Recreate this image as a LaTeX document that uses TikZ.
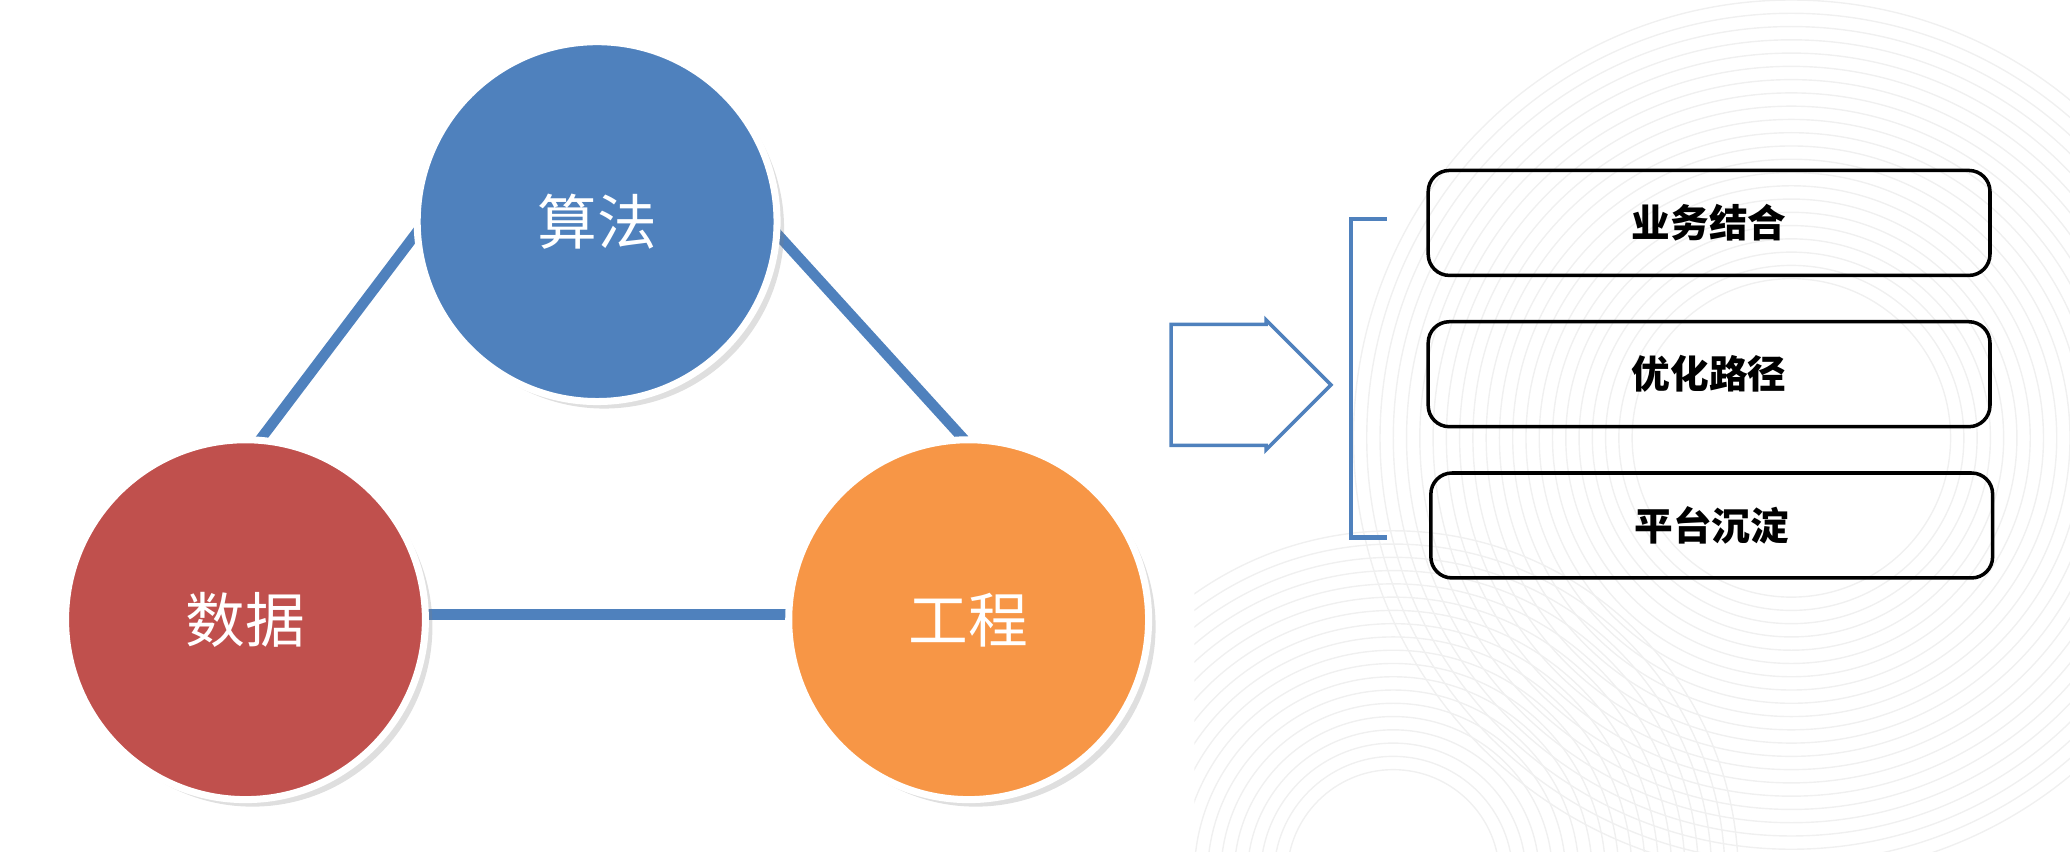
\documentclass[tikz,border=0pt]{standalone}
\usepackage{fontspec}
\newfontfamily\cjk{Noto Sans CJK SC}
\usetikzlibrary{shapes.arrows,shadows}
\definecolor{cblue}{HTML}{4F81BD}
\definecolor{cred}{HTML}{C0504D}
\definecolor{corange}{HTML}{F79646}
\begin{document}
\begin{tikzpicture}[x=0.01327cm,y=-0.01327cm,
  ball/.style={circle,draw=white,line width=2pt,minimum size=3.6cm,text=white,font=\cjk\fontsize{17}{20}\selectfont,drop shadow={opacity=0.25,shadow xshift=2pt,shadow yshift=-2pt}},
  link/.style={cblue,line width=3pt},
  item/.style={draw=black,line width=1pt,rounded corners=6pt,minimum width=5.62cm,minimum height=1.05cm,font=\cjk\bfseries\fontsize{11}{13}\selectfont}]
\useasboundingbox (0,0) rectangle (1560,642);
\begin{scope}
\clip (900,0) rectangle (1560,642);
\foreach \r in {120,130,...,330} \draw[gray!12,line width=0.4pt] (1350,330) circle (\r);
\foreach \r in {80,90,...,260} \draw[gray!12,line width=0.4pt] (1050,660) circle (\r);
\end{scope}
\coordinate (a1) at (318,170); \coordinate (a2) at (580,170);
\coordinate (d1) at (188,342); \coordinate (d2) at (320,463);
\coordinate (g1) at (730,335); \coordinate (g2) at (600,463);
\draw[link] (a1) -- (d1);
\draw[link] (a2) -- (g1);
\draw[link] (d2) -- (g2);
\node[ball,fill=cblue] (alg) at (450,167) {算法};
\node[ball,fill=cred] (dat) at (185,467) {数据};
\node[ball,fill=corange] (eng) at (730,467) {工程};
\node[single arrow,draw=cblue,fill=white,line width=1pt,minimum width=1.3cm,single arrow head extend=0.01cm,minimum height=1.6cm] (arr) at (920,290) {};
\coordinate (b1) at (1045,165); \coordinate (b2) at (1045,405);
\draw[cblue,line width=1.2pt] (b1) -- ++(-27,0) |- (b2);
\node[item] (i1) at (1288,168) {业务结合};
\node[item] (i2) at (1288,282) {优化路径};
\node[item] (i3) at (1290,396) {平台沉淀};
\end{tikzpicture}
\end{document}
